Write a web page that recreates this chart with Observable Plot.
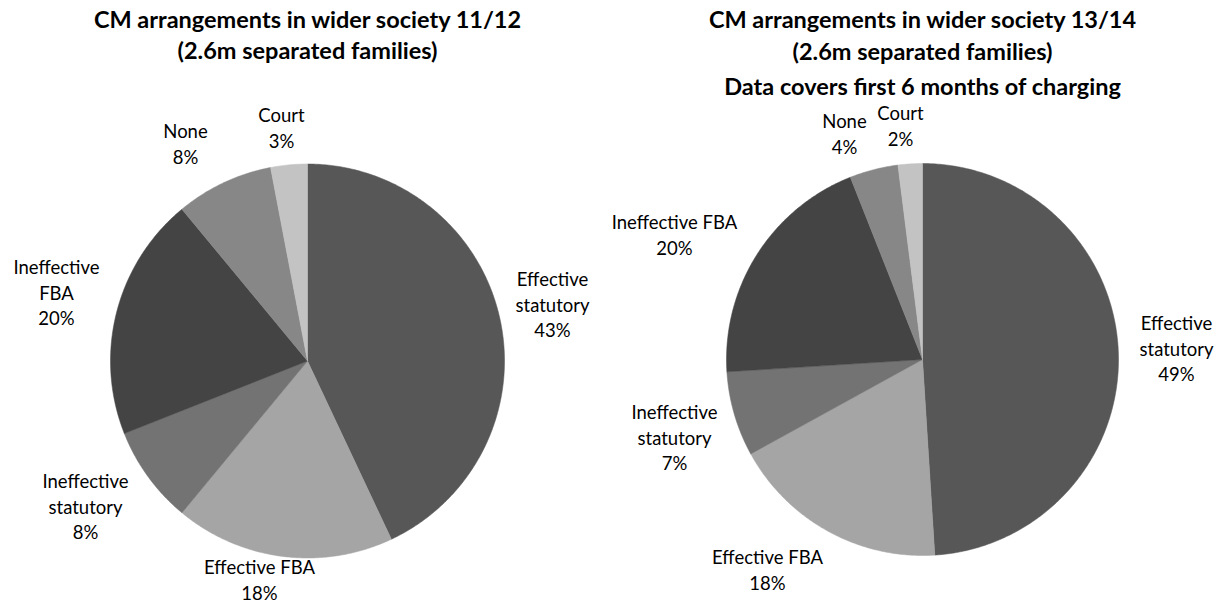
<!DOCTYPE html>
<html>
<head>
<meta charset="utf-8">
<script src="https://cdn.jsdelivr.net/npm/d3@7"></script>
<script src="https://cdn.jsdelivr.net/npm/@observablehq/plot@0.6"></script>
<style>
  html, body { margin: 0; padding: 0; background: #fff; }
  #chart { width: 1225px; height: 604px; }
</style>
</head>
<body>
<div id="chart"></div>
<script>
// ---- data ----
const categories = ["Effective statutory", "Effective FBA", "Ineffective statutory", "Ineffective FBA", "None", "Court"];
const values1112 = [43, 18, 8, 20, 8, 3];
const values1314 = [49, 18, 7, 20, 4, 2];
const colors = ["#575757", "#a5a5a5", "#737373", "#444444", "#878787", "#c3c3c3"];
const title1112 = ["CM arrangements in wider society 11/12", "(2.6m separated families)"];
const title1314 = ["CM arrangements in wider society 13/14", "(2.6m separated families)", "Data covers first 6 months of charging"];
// label text lines per category (for each pie)
const labels1112 = [["Effective", "statutory"], ["Effective FBA"], ["Ineffective", "statutory"], ["Ineffective", "FBA"], ["None"], ["Court"]];
const labels1314 = [["Effective", "statutory"], ["Effective FBA"], ["Ineffective", "statutory"], ["Ineffective FBA"], ["None"], ["Court"]];

// ---- layout (pixels) ----
const W = 1225, H = 604;
const pies = [
  {values: values1112, labels: labels1112, cx: 307, cy: 360.5, r: 197,
   labelPos: [[552, 280], [259, 568], [85, 482], [56, 268], [185, 132], [281, 116]],
   title: title1112, titleX: 307, titleY: [20, 51]},
  {values: values1314, labels: labels1314, cx: 922, cy: 359, r: 196,
   labelPos: [[1176, 324], [767, 558], [674, 413], [674, 223], [844, 122], [900, 114]],
   title: title1314, titleX: 922, titleY: [20, 52, 87]}
];

const slicePts = [];
const labelRows = [];
const titleRows = [];
const lineH = 25.5;
pies.forEach((p, pi) => {
  const arcs = d3.pie().sort(null).startAngle(0).endAngle(2 * Math.PI)(p.values);
  arcs.forEach((a, i) => {
    const id = pi + "-" + i;
    slicePts.push({id, x: p.cx, y: p.cy, color: colors[i]});
    const n = Math.max(2, Math.ceil((a.endAngle - a.startAngle) / 0.01));
    for (let k = 0; k <= n; k++) {
      const t = a.startAngle + (a.endAngle - a.startAngle) * k / n;
      slicePts.push({id, x: p.cx + p.r * Math.sin(t), y: p.cy - p.r * Math.cos(t), color: colors[i]});
    }
    slicePts.push({id, x: p.cx, y: p.cy, color: colors[i]});
    const lines = [...p.labels[i], p.values[i] + "%"];
    lines.forEach((txt, j) => {
      labelRows.push({x: p.labelPos[i][0], y: p.labelPos[i][1] + j * lineH, text: txt});
    });
  });
  p.title.forEach((txt, j) => titleRows.push({x: p.titleX, y: p.titleY[j], text: txt}));
});

const chart = Plot.plot({
  width: W,
  height: H,
  margin: 0,
  x: {domain: [0, W], range: [0, W], axis: null},
  y: {domain: [0, H], range: [0, H], axis: null},
  style: {fontFamily: "Lato, 'Open Sans', sans-serif", background: "#fff"},
  marks: [
    Plot.line(slicePts, {x: "x", y: "y", z: "id", fill: "color", stroke: "color", strokeWidth: 0.5, curve: "linear"}),
    Plot.text(labelRows, {x: "x", y: "y", text: "text", fontSize: 18.5, fill: "#000", textAnchor: "middle", lineAnchor: "middle"}),
    Plot.text(titleRows, {x: "x", y: "y", text: "text", fontSize: 23.5, fontWeight: "bold", fill: "#000", textAnchor: "middle", lineAnchor: "middle"})
  ]
});
document.getElementById("chart").appendChild(chart);
</script>
</body>
</html>
